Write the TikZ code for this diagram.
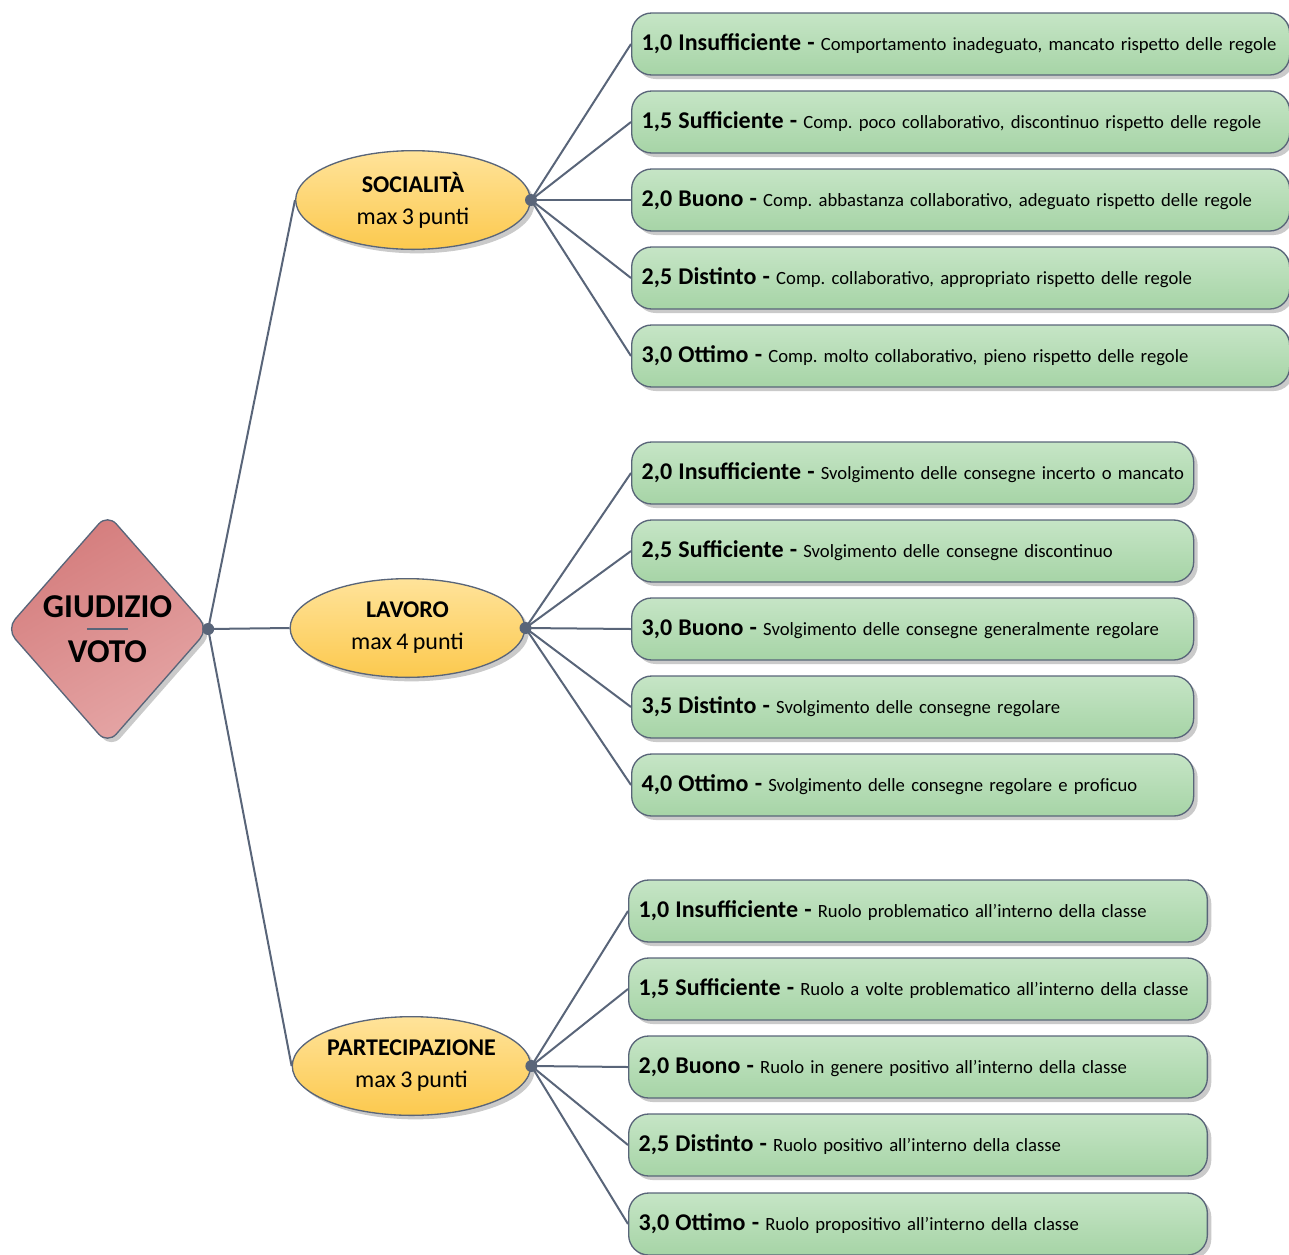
\documentclass[tikz,border=0pt]{standalone}
\usepackage{fontspec}
\setmainfont{Carlito}[WordSpace=0.8]
\usetikzlibrary{shapes.geometric,shadows,backgrounds}
\definecolor{lnc}{HTML}{596579}
\definecolor{gtop}{HTML}{C6E5C6}
\definecolor{gbot}{HTML}{A6D4A6}
\definecolor{ytop}{HTML}{FFE39A}
\definecolor{ybot}{HTML}{FCC94E}
\definecolor{dtop}{HTML}{D47C7C}
\definecolor{dbot}{HTML}{E5A6A6}
\newcommand\gradeLab[1]{{\fontsize{18}{20}\selectfont\bfseries #1}}
\newcommand\rowText[2]{\mbox{\gradeLab{#1} #2}}
\frenchspacing
\begin{document}
\begin{tikzpicture}[x=0.75pt,y=-0.75pt,
  conn/.style={draw=lnc, line width=1.5pt},
  dot/.style={circle, fill=lnc, inner sep=0pt, minimum size=9pt},
  shad/.style={drop shadow={shadow xshift=3pt, shadow yshift=-3pt, opacity=0.35, fill=black!60}},
  gbox/.style={rounded corners=15pt, draw=lnc, line width=1pt, top color=gtop, bottom color=gbot,
    minimum height=46.5pt, inner xsep=7.5pt, inner ysep=0pt, align=left, anchor=west,
    text width=#1, font=\fontsize{14}{16}\selectfont\frenchspacing, shad},
  cat/.style={ellipse, draw=lnc, line width=1pt, top color=ytop, bottom color=ybot,
    minimum width=176pt, minimum height=74pt, inner sep=0pt, align=center,
    font=\fontsize{18}{24}\selectfont, shad},
  dia/.style={diamond, draw=lnc, line width=1pt, shading=axis, top color=dtop, bottom color=dbot,
    shading angle=30, minimum width=152pt, minimum height=173pt, inner sep=0pt,
    rounded corners=10pt, shad}
]
\useasboundingbox (0,0) rectangle (1289,1254);

% root
\node[dia] (root) at (107.5,629) {};
\node[align=center, font=\fontsize{25}{34}\selectfont\bfseries] (rtext) at (root.center) {GIUDIZIO\\VOTO};
\draw[lnc, line width=1.5pt] ([xshift=-15.5pt]root.center) -- ([xshift=15.5pt]root.center);
\node[dot] (d0) at ([xshift=-1pt]root.east) {};

% categories
\node[cat] (soc) at (413,200) {\textbf{SOCIALITÀ}\\max 3 punti};
\node[cat] (lav) at (407.5,628) {\textbf{LAVORO}\\max 4 punti};
\node[cat] (par) at (411.5,1066) {\textbf{PARTECIPAZIONE}\\max 3 punti};
\node[dot] (ds) at (soc.east) {};
\node[dot] (dl) at (lav.east) {};
\node[dot] (dp) at (par.east) {};

% group 1
\node[gbox=478.5pt] (s1) at (631,44) {\rowText{1,0 Insufficiente -}{Comportamento inadeguato, mancato rispetto delle regole}};
\node[gbox=478.5pt] (s2) at (631,122) {\rowText{1,5 Sufficiente -}{Comp. poco collaborativo, discontinuo rispetto delle regole}};
\node[gbox=478.5pt] (s3) at (631,200) {\rowText{2,0 Buono -}{Comp. abbastanza collaborativo, adeguato rispetto delle regole}};
\node[gbox=478.5pt] (s4) at (631,278) {\rowText{2,5 Distinto -}{Comp. collaborativo, appropriato rispetto delle regole}};
\node[gbox=478.5pt] (s5) at (631,356) {\rowText{3,0 Ottimo -}{Comp. molto collaborativo, pieno rispetto delle regole}};

% group 2
\node[gbox=406.5pt] (l1) at (631,473) {\rowText{2,0 Insufficiente -}{Svolgimento delle consegne incerto o mancato}};
\node[gbox=406.5pt] (l2) at (631,551) {\rowText{2,5 Sufficiente -}{Svolgimento delle consegne discontinuo}};
\node[gbox=406.5pt] (l3) at (631,629) {\rowText{3,0 Buono -}{Svolgimento delle consegne generalmente regolare}};
\node[gbox=406.5pt] (l4) at (631,707) {\rowText{3,5 Distinto -}{Svolgimento delle consegne regolare}};
\node[gbox=406.5pt] (l5) at (631,785) {\rowText{4,0 Ottimo -}{Svolgimento delle consegne regolare e proficuo}};

% group 3
\node[gbox=419pt] (p1) at (628,911) {\rowText{1,0 Insufficiente -}{Ruolo problematico all’interno della classe}};
\node[gbox=419pt] (p2) at (628,989) {\rowText{1,5 Sufficiente -}{Ruolo a volte problematico all’interno della classe}};
\node[gbox=419pt] (p3) at (628,1067) {\rowText{2,0 Buono -}{Ruolo in genere positivo all’interno della classe}};
\node[gbox=419pt] (p4) at (628,1145) {\rowText{2,5 Distinto -}{Ruolo positivo all’interno della classe}};
\node[gbox=419pt] (p5) at (628,1224) {\rowText{3,0 Ottimo -}{Ruolo propositivo all’interno della classe}};

\begin{scope}[on background layer]
  \draw[conn] (d0.center) -- (soc.west);
  \draw[conn] (d0.center) -- (lav.west);
  \draw[conn] (d0.center) -- (par.west);
  \foreach \b in {s1,s2,s3,s4,s5} \draw[conn] (ds.center) -- (\b.west);
  \foreach \b in {l1,l2,l3,l4,l5} \draw[conn] (dl.center) -- (\b.west);
  \foreach \b in {p1,p2,p3,p4,p5} \draw[conn] (dp.center) -- (\b.west);
\end{scope}
\end{tikzpicture}
\end{document}
